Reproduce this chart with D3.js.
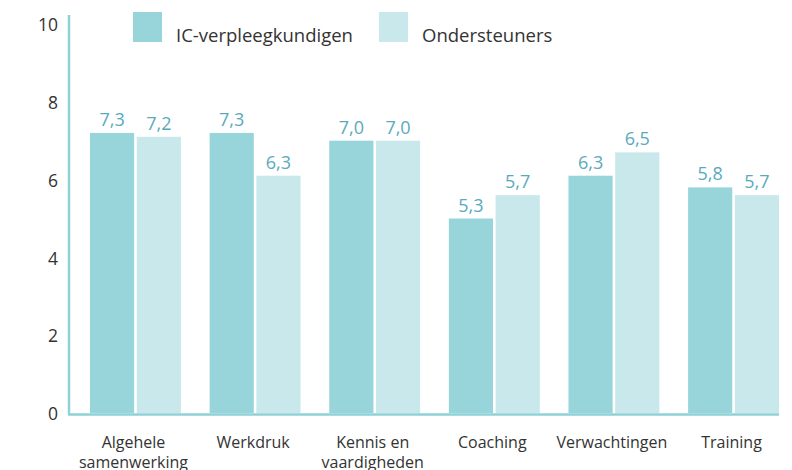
<!DOCTYPE html>
<html>
<head>
<meta charset="utf-8">
<script src="https://cdn.jsdelivr.net/npm/d3@7"></script>
<style>
  body { margin: 0; background: #fff; }
  text { font-family: "Open Sans", "Noto Sans", sans-serif; }
</style>
</head>
<body>
<div id="chart"></div>
<script>
// categories and series
const categories = ["Algehele samenwerking", "Werkdruk", "Kennis en vaardigheden", "Coaching", "Verwachtingen", "Training"];
const series = ["IC-verpleegkundigen", "Ondersteuners"];
// bar heights as drawn in the picture
const valuesIC = [7.2, 7.2, 7.0, 5.0, 6.1, 5.8];
const valuesOnd = [7.1, 6.1, 7.0, 5.6, 6.7, 5.6];
// value labels as printed above the bars
const labelsIC = ["7,3", "7,3", "7,0", "5,3", "6,3", "5,8"];
const labelsOnd = ["7,2", "6,3", "7,0", "5,7", "6,5", "5,7"];
const yTicks = [0, 2, 4, 6, 8, 10];

const colors = ["#97d5db", "#c8e8eb"];
const W = 792, H = 470;
const plot = {left: 90, right: 779, top: 24, bottom: 413};

const svg = d3.select("#chart").append("svg")
  .attr("width", W).attr("height", H);

const data = categories.map((c, i) => ({
  cat: c,
  vals: [
    {s: series[0], v: valuesIC[i], label: labelsIC[i]},
    {s: series[1], v: valuesOnd[i], label: labelsOnd[i]}
  ]
}));

const x0 = d3.scaleBand()
  .domain(categories)
  .range([plot.left, plot.right])
  .paddingInner(0.24)
  .paddingOuter(0);

const x1 = d3.scaleBand()
  .domain(series)
  .range([0, x0.bandwidth()])
  .paddingInner(0.055);

const y = d3.scaleLinear()
  .domain([0, 10])
  .range([plot.bottom, plot.top]);

const color = d3.scaleOrdinal().domain(series).range(colors);

// y axis (labels only, line drawn separately)
const yAxis = svg.append("g")
  .attr("transform", "translate(58,1)")
  .call(d3.axisLeft(y).tickValues(yTicks).tickSize(0).tickPadding(0));
yAxis.select(".domain").remove();
yAxis.selectAll("text")
  .attr("fill", "#333")
  .style("font-size", "17.5px")
  .style("font-family", "'Open Sans', 'Noto Sans', sans-serif");

// bars
const groups = svg.selectAll("g.grp")
  .data(data)
  .enter().append("g")
  .attr("class", "grp")
  .attr("transform", d => "translate(" + x0(d.cat) + ",0)");

groups.selectAll("rect")
  .data(d => d.vals)
  .enter().append("rect")
  .attr("x", d => x1(d.s))
  .attr("y", d => y(d.v))
  .attr("width", x1.bandwidth())
  .attr("height", d => y(0) - y(d.v))
  .attr("fill", d => color(d.s));

groups.selectAll("text.val")
  .data(d => d.vals)
  .enter().append("text")
  .attr("class", "val")
  .attr("x", d => x1(d.s) + x1.bandwidth() / 2)
  .attr("y", d => y(d.v) - 7)
  .attr("text-anchor", "middle")
  .attr("fill", "#5aaabd")
  .style("font-size", "18px")
  .text(d => d.label);

// axis lines
svg.append("line")
  .attr("x1", 69).attr("x2", 69)
  .attr("y1", 15).attr("y2", plot.bottom + 2)
  .attr("stroke", "#8fd1d7").attr("stroke-width", 2.5);
svg.append("line")
  .attr("x1", 68).attr("x2", plot.right)
  .attr("y1", plot.bottom + 1.5).attr("y2", plot.bottom + 1.5)
  .attr("stroke", "#8fd1d7").attr("stroke-width", 2.5);

// category labels
const xAxis = svg.append("g")
  .attr("transform", "translate(0," + plot.bottom + ")")
  .call(d3.axisBottom(x0).tickSize(0).tickFormat(""));
xAxis.select(".domain").remove();
xAxis.selectAll(".tick").each(function(d) {
  const words = d.split(" ");
  const lines = words.length > 1 ? [words[0] + (words.length > 2 ? " " + words[1] : ""), words[words.length - 1]] : [d];
  const t = d3.select(this).append("text")
    .attr("text-anchor", "middle")
    .attr("fill", "#333")
    .style("font-size", "16px");
  lines.forEach((l, i) => {
    t.append("tspan").attr("x", -2).attr("y", 35 + i * 20).text(l);
  });
});

// legend
const legendX = [133, 379];
const legend = svg.selectAll("g.leg")
  .data(series)
  .enter().append("g")
  .attr("class", "leg")
  .attr("transform", (d, i) => "translate(" + legendX[i] + ",12)");
legend.append("rect")
  .attr("width", 29).attr("height", 30)
  .attr("fill", d => color(d));
legend.append("text")
  .attr("x", 43).attr("y", 30)
  .attr("fill", "#333")
  .style("font-size", "18.5px")
  .text(d => d);
</script>
</body>
</html>
